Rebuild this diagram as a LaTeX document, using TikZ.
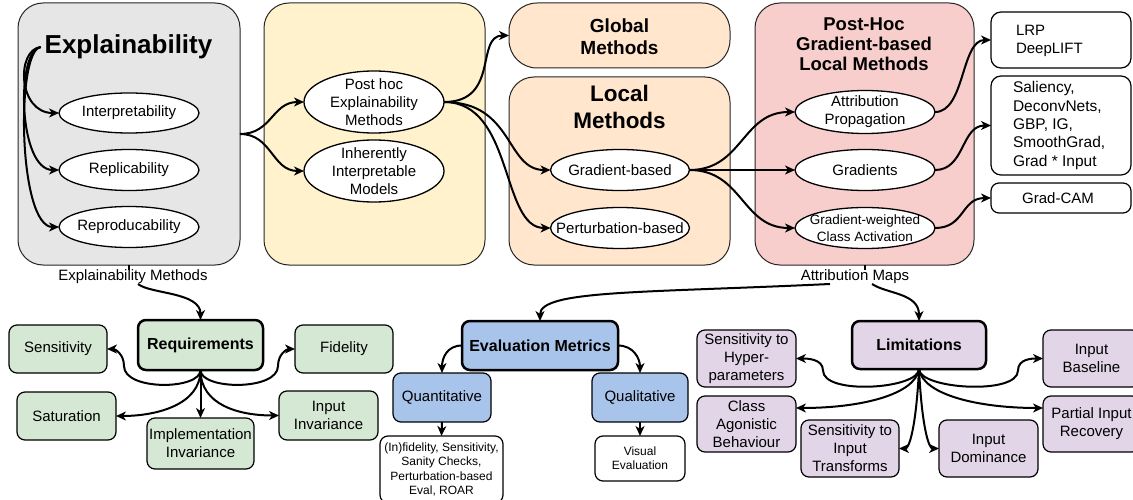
\documentclass[tikz,border=0pt]{standalone}
\usepackage{fontspec}
\setmainfont{Liberation Sans}
\usetikzlibrary{arrows.meta,shapes.geometric,calc}
\newcommand\myfs[2]{\fontsize{#1}{#2}\selectfont}
\definecolor{grayc}{HTML}{E6E6E6}
\definecolor{yellowc}{HTML}{FFF2CC}
\definecolor{orangec}{HTML}{FFE6CC}
\definecolor{pinkc}{HTML}{F8CECC}
\definecolor{greenc}{HTML}{D5E8D4}
\definecolor{bluec}{HTML}{A9C4EB}
\definecolor{purplec}{HTML}{E1D5E7}
\begin{document}
\begin{tikzpicture}[x=1pt,y=-1pt,
  every node/.style={inner sep=0pt, outer sep=0pt, align=center, font=\myfs{15}{18}},
  cont/.style={rectangle, draw=black!85, line width=1pt, rounded corners=25pt},
  ell/.style={ellipse, draw=black, fill=white, line width=1.3pt},
  sbox/.style={rectangle, draw=black, line width=1.2pt, rounded corners=8pt},
  tbox/.style={rectangle, draw=black, line width=2.5pt, rounded corners=8pt, font=\bfseries\myfs{16}{19}},
  conn/.style={line width=2pt, -{Stealth[length=10pt,width=9pt,inset=3pt]}},
  lnk/.style={line width=2pt},
]
\fill[white] (0,0) rectangle (1133,500);
\useasboundingbox (0,0) rectangle (1133,500);

% containers
\node[cont, fill=grayc, minimum width=222, minimum height=262] (expbox) at (129,134) {};
\node[cont, fill=yellowc, minimum width=221, minimum height=262] (yelbox) at (374.5,134) {};
\node[cont, fill=orangec, rounded corners=28pt, minimum width=221, minimum height=65] (global) at (619.5,35.5) {};
\node[cont, fill=orangec, minimum width=221, minimum height=188] (localbox) at (619.5,171) {};
\node[cont, fill=pinkc, minimum width=219, minimum height=262] (pink) at (864.5,134) {};

% titles
\node[font=\bfseries\myfs{26}{30}] (expt) at (128.5,47) {Explainability};
\node[font=\bfseries\myfs{19}{22}] (globalt) at (619.5,37) {Global\\Methods};
\node[font=\bfseries\myfs{22.5}{27}] (localt) at (619.5,107) {Local\\Methods};
\node[font=\bfseries\myfs{18.5}{20}] (pinkt) at (864,44) {Post-Hoc\\Gradient-based\\Local Methods};

% ellipses
\node[ell, minimum width=140, minimum height=40, label=center:Interpretability] (interp) at (129,113) {};
\node[ell, minimum width=140, minimum height=41, label=center:Replicability] (repl) at (129,170) {};
\node[ell, minimum width=140, minimum height=41, label=center:Reproducability] (repro) at (129,227) {};
\node[ell, minimum width=140, minimum height=62, label=center:{Post hoc\\Explainability\\Methods}] (posthoc) at (374,102) {};
\node[ell, minimum width=140, minimum height=62, label=center:{Inherently\\Interpretable\\Models}] (inher) at (374,171) {};
\node[ell, minimum width=139, minimum height=41, label=center:Gradient-based] (gradb) at (620,170) {};
\node[ell, minimum width=139, minimum height=41, label=center:Perturbation-based] (pertb) at (620,228) {};
\node[ell, minimum width=140, minimum height=43, label=center:{Attribution\\Propagation}] (attrprop) at (865,112) {};
\node[ell, minimum width=140, minimum height=41, label=center:Gradients] (grads) at (865,170) {};
\node[ell, minimum width=140, minimum height=41, label={[font=\myfs{13.5}{16.5}]center:{Gradient-weighted\\Class Activation}}] (gwca) at (865,228) {};

% right boxes
\node[sbox, fill=white, rounded corners=10pt, minimum width=140, minimum height=56] (lrp) at (1061,40) {};
\node[anchor=west, align=left] (lrpt) at (1016,41) {LRP\\DeepLIFT};
\node[sbox, fill=white, rounded corners=10pt, minimum width=140, minimum height=99] (sal) at (1061,125.5) {};
\node[anchor=west, align=left, font=\myfs{15.5}{18.3}] (salt) at (1013,125.5) {Saliency,\\DeconvNets,\\GBP, IG,\\SmoothGrad,\\Grad * Input};
\node[sbox, fill=white, minimum width=140, minimum height=30] (gcam) at (1061,198) {};
\node (gcamt) at (1058,198) {Grad-CAM};

% labels
\node (explm) at (133,277) {Explainability Methods};
\node (attrm) at (855,277) {Attribution Maps};

% requirements
\node[tbox, fill=greenc, minimum width=125, minimum height=50] (req) at (200.5,345) {Requirements};
\node[sbox, fill=greenc, minimum width=98, minimum height=48] (sens) at (58,349) {Sensitivity};
\node[sbox, fill=greenc, minimum width=98, minimum height=48] (fid) at (344,349) {Fidelity};
\node[sbox, fill=greenc, minimum width=99, minimum height=48] (satur) at (66.5,416) {Saturation};
\node[sbox, fill=greenc, minimum width=107, minimum height=51] (impl) at (200.5,443.5) {Implementation\\Invariance};
\node[sbox, fill=greenc, minimum width=99, minimum height=49] (inpinv) at (328.5,415.5) {Input\\Invariance};

% evaluation
\node[tbox, fill=bluec, minimum width=156, minimum height=49] (eval) at (540,345.5) {Evaluation Metrics};
\node[sbox, fill=bluec, minimum width=98, minimum height=49] (quant) at (442,397.5) {Quantitative};
\node[sbox, fill=bluec, minimum width=96, minimum height=49] (qual) at (640,397.5) {Qualitative};
\node[sbox, fill=white, minimum width=123, minimum height=67, font=\myfs{12}{14.3}] (infid) at (441.5,469.5) {(In)fidelity, Sensitivity,\\Sanity Checks,\\Perturbation-based\\Eval, ROAR};
\node[sbox, fill=white, minimum width=90, minimum height=45, font=\myfs{12}{14}] (visev) at (640,458.5) {Visual\\Evaluation};

% limitations
\node[tbox, fill=purplec, minimum width=134, minimum height=48] (lim) at (919,345) {Limitations};
\node[sbox, fill=purplec, minimum width=99, minimum height=57] (hyper) at (746.5,358.5) {Sensitivity to\\Hyper-\\parameters};
\node[sbox, fill=purplec, minimum width=99, minimum height=56] (classag) at (746.5,424) {Class\\Agonistic\\Behaviour};
\node[sbox, fill=purplec, minimum width=98, minimum height=57] (sensinp) at (850,448.5) {Sensitivity to\\Input\\Transforms};
\node[sbox, fill=purplec, minimum width=99, minimum height=57] (inpdom) at (988.5,448.5) {Input\\Dominance};
\node[sbox, fill=purplec, minimum width=97, minimum height=57] (inpbase) at (1091.5,358.5) {Input\\Baseline};
\node[sbox, fill=purplec, minimum width=97, minimum height=56] (partial) at (1091.5,424) {Partial Input\\Recovery};

% connectors: explainability
\draw[conn] ([xshift=-4pt]expt.west) .. controls +(-25,3) and +(-41,0) .. (interp.west);
\draw[conn] ([xshift=-4pt]expt.west) .. controls +(-25,3) and +(-41,0) .. (repl.west);
\draw[conn] ([xshift=-4pt]expt.west) .. controls +(-25,3) and +(-41,0) .. (repro.west);
\draw[conn] (expbox.east) .. controls +(32,0) and +(-32,0) .. (posthoc.west);
\draw[conn] (expbox.east) .. controls +(32,0) and +(-32,0) .. (inher.west);
\draw[conn] (posthoc.east) .. controls +(56,0) and +(-34,0) .. (global.west);
\draw[conn] (posthoc.east) .. controls +(70,0) and +(-45,0) .. (gradb.west);
\draw[conn] (posthoc.east) .. controls +(70,0) and +(-50,0) .. (pertb.west);
\draw[conn] (gradb.east) .. controls +(53,0) and +(-53,0) .. (attrprop.west);
\draw[conn] (gradb.east) -- (grads.west);
\draw[conn] (gradb.east) .. controls +(53,0) and +(-53,0) .. (gwca.west);
\draw[conn] (attrprop.east) .. controls +(30,0) and +(-30,0) .. (lrp.west);
\draw[conn] (grads.east) .. controls +(30,0) and +(-30,0) .. (sal.west);
\draw[conn] (gwca.east) .. controls +(30,0) and +(-30,0) .. (gcam.west);

% labels links
\draw[lnk] (expbox.south) -- (expbox.south |- explm.north);
\draw[lnk] (pink.south) -- (pink.south |- attrm.north);
\draw[conn] ([xshift=5pt]explm.south) .. controls +(12,10) and +(0,-28) .. (req.north);
\draw[conn] ([xshift=17pt]attrm.south) .. controls +(15,10) and +(0,-28) .. (lim.north);
\draw[conn] ([xshift=-25pt]attrm.south) .. controls (640,293) and (540,290) .. (eval.north);

% requirements branches
\draw[conn] (req.south) .. controls +(0,20) and +(0,25) .. ($(sens.east)+(17,17)$) .. controls +(0,-12) and +(8,0) .. (sens.east);
\draw[conn] (req.south) .. controls +(0,20) and +(0,25) .. ($(fid.west)+(-17,17)$) .. controls +(0,-12) and +(-8,0) .. (fid.west);
\draw[conn] (req.south) .. controls +(0,35) and +(40,0) .. (satur.east);
\draw[conn] (req.south) -- (impl.north);
\draw[conn] (req.south) .. controls +(0,35) and +(-40,0) .. (inpinv.west);

% evaluation branches
\draw[conn] (eval.west) .. controls +(-15,0) and +(0,-15) .. (quant.north);
\draw[conn] (eval.east) .. controls +(15,0) and +(0,-15) .. (qual.north);
\draw[conn] (quant.south) -- (infid.north);
\draw[conn] (qual.south) -- (visev.north);

% limitation branches
\draw[conn] (lim.south) .. controls +(0,20) and +(0,25) .. ($(hyper.east)+(27,12)$) .. controls +(0,-12) and +(10,0) .. (hyper.east);
\draw[conn] (lim.south) .. controls +(-4,26) and +(64,0) .. ([yshift=16pt]classag.east);
\draw[conn] (lim.south) .. controls +(-3,60) and +(10,0) .. (sensinp.east);
\draw[conn] (lim.south) .. controls +(3,60) and +(-10,0) .. (inpdom.west);
\draw[conn] (lim.south) .. controls +(0,20) and +(0,25) .. ($(inpbase.west)+(-25,12)$) .. controls +(0,-12) and +(-10,0) .. (inpbase.west);
\draw[conn] (lim.south) .. controls +(4,26) and +(-64,0) .. ([yshift=16pt]partial.west);
\end{tikzpicture}
\end{document}
